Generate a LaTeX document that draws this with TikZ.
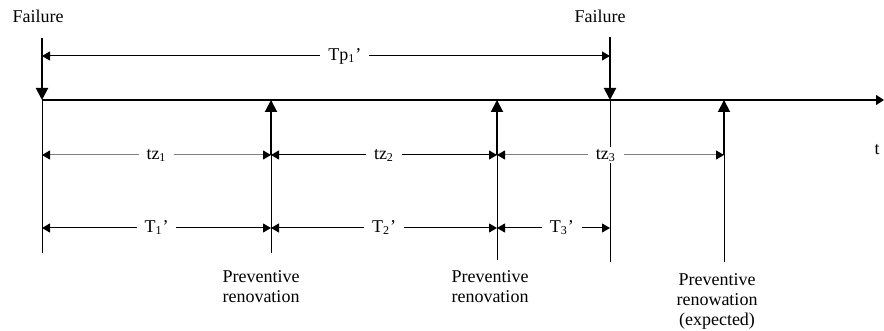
\documentclass[tikz,border=0pt]{standalone}
\usepackage{fontspec}
\setmainfont{Liberation Serif}
\usepackage{tikz}
\usetikzlibrary{arrows.meta, calc}
\tikzset{
  axisarrow/.style={-{Triangle[length=4pt, width=5pt]}, line width=0.75pt},
  eventarrow/.style={-{Triangle[length=6pt, width=6pt]}, line width=1pt},
  guideline/.style={line width=0.5pt},
  dimarrow/.style={{Triangle[length=4pt, width=4.5pt, color=black]}-{Triangle[length=4pt, width=4.5pt, color=black]}, line width=0.5pt},
  dimlabel/.style={fill=white, inner xsep=4pt, inner ysep=1pt, font=\fontsize{9}{10}\selectfont},
  eventlabel/.style={align=center, inner sep=0pt, font=\fontsize{9}{10}\selectfont},
}

\begin{document}
\begin{tikzpicture}[x=0.5pt, y=-0.5pt]
  \useasboundingbox (0,0) rectangle (884,331);
  % time points on the axis
  \coordinate (f1) at (42,100);   \coordinate (f1t) at (42,38);   \coordinate (f1b) at (42,253);
  \coordinate (p1) at (271,100);  \coordinate (p1s) at (271,155); \coordinate (p1b) at (271,253);
  \coordinate (p2) at (497,100);  \coordinate (p2s) at (497,155); \coordinate (p2b) at (497,260);
  \coordinate (f2) at (610,100);  \coordinate (f2t) at (610,37);  \coordinate (f2b) at (610,262);
  \coordinate (p3) at (724,100);  \coordinate (p3s) at (724,155); \coordinate (p3b) at (724,262);
  \coordinate (tend) at (884,100);

  % guide lines
  \draw[guideline] (f1) -- (f1b);
  \draw[guideline] (p1) -- (p1b);
  \draw[guideline] (p2) -- (p2b);
  \draw[guideline] (f2) -- (f2b);
  \draw[guideline] (p3) -- (p3b);

  % time axis
  \draw[axisarrow] (f1) -- (tend);
  \node (t) at (877,150) {\fontsize{9}{10}\selectfont t};

  % failures and renovations
  \draw[eventarrow] (f1t) -- (f1);
  \draw[eventarrow] (f2t) -- (f2);
  \draw[eventarrow] (p1s) -- (p1);
  \draw[eventarrow] (p2s) -- (p2);
  \draw[eventarrow] (p3s) -- (p3);

  % dimensions
  \draw[dimarrow] ($(f1)+(0,-44)$) -- ($(f2)+(0,-44)$) node[dimlabel, pos=0.533] (tp1) {Tp\textsubscript{1}’};
  \draw[dimarrow, gray] (p1s -| f1) -- (p1s) node[dimlabel, text=black, midway] (tz1) {tz\textsubscript{1}};
  \draw[dimarrow] (p1s) -- (p2s) node[dimlabel, midway] (tz2) {tz\textsubscript{2}};
  \draw[dimarrow, gray] (p2s) -- (p3s) node[dimlabel, text=black, pos=0.48] (tz3) {tz\textsubscript{3}};
  \draw[dimarrow] ($(f1)+(0,128)$) -- ($(p1)+(0,128)$) node[dimlabel, midway] (T1) {T\textsubscript{1}’};
  \draw[dimarrow] ($(p1)+(0,128)$) -- ($(p2)+(0,128)$) node[dimlabel, midway] (T2) {T\textsubscript{2}’};
  \draw[dimarrow] ($(p2)+(0,128)$) -- ($(f2)+(0,128)$) node[dimlabel, pos=0.575] (T3) {T\textsubscript{3}’};

  % labels
  \node[eventlabel] (fail1) at (38,16) {Failure};
  \node[eventlabel] (fail2) at (600,16) {Failure};
  \node[eventlabel, anchor=north] (prev1) at (261,270) {Preventive\\renovation};
  \node[eventlabel, anchor=north] (prev2) at (490,270) {Preventive\\renovation};
  \node[eventlabel, anchor=north] (prev3) at (717,273) {Preventive\\renowation\\(expected)};
\end{tikzpicture}
\end{document}
